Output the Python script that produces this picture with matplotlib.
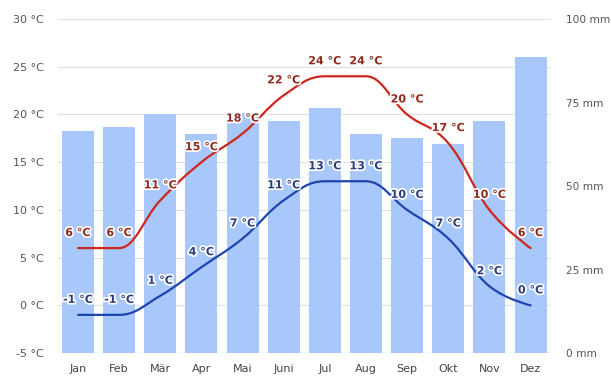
import matplotlib
matplotlib.use("Agg")
import matplotlib.pyplot as plt
from matplotlib.path import Path
from matplotlib.patches import PathPatch
import matplotlib.patheffects as pe

months = ["Jan", "Feb", "Mär", "Apr", "Mai", "Juni", "Jul", "Aug", "Sep", "Okt", "Nov", "Dez"]
temp_max = [6, 6, 11, 15, 18, 22, 24, 24, 20, 17, 10, 6]
temp_min = [-1, -1, 1, 4, 7, 11, 13, 13, 10, 7, 2, 0]
precip_mm = [66.5, 67.7, 71.6, 65.6, 71.9, 69.5, 73.4, 65.6, 64.4, 62.6, 69.5, 88.6]

temp_ticks = [-5, 0, 5, 10, 15, 20, 25, 30]
precip_ticks = [0, 25, 50, 75, 100]

BAR = "#a8c8fb"
RED = "#cf261b"
BLUE = "#1d45b0"
RED_TXT = "#8e2a1e"
BLUE_TXT = "#2c3d80"
GRID = "#e3e3e3"
TICK_TXT = "#555555"


def spline_path(xs, ys, smoothing=1.5):
    """Cubic Bezier path through the points, with control points kept
    between neighbouring values so flat stretches stay flat."""
    n = len(xs)
    right_ctrl = [None] * n
    verts = [(xs[0], ys[0])]
    codes = [Path.MOVETO]
    denom = smoothing + 1
    for i in range(1, n):
        x, y = xs[i], ys[i]
        lx, ly = xs[i - 1], ys[i - 1]
        lcx, lcy = x, y
        if i < n - 1:
            nx, ny = xs[i + 1], ys[i + 1]
            lcx = (smoothing * x + lx) / denom
            lcy = (smoothing * y + ly) / denom
            rcx = (smoothing * x + nx) / denom
            rcy = (smoothing * y + ny) / denom
            corr = (rcy - lcy) * (rcx - x) / (rcx - lcx) + y - rcy
            lcy += corr
            rcy += corr
            if lcy > ly and lcy > y:
                lcy = max(ly, y)
                rcy = 2 * y - lcy
            elif lcy < ly and lcy < y:
                lcy = min(ly, y)
                rcy = 2 * y - lcy
            if rcy > ny and rcy > y:
                rcy = max(ny, y)
                lcy = 2 * y - rcy
            elif rcy < ny and rcy < y:
                rcy = min(ny, y)
                lcy = 2 * y - rcy
            right_ctrl[i] = (rcx, rcy)
        prev_ctrl = right_ctrl[i - 1] if right_ctrl[i - 1] is not None else (lx, ly)
        verts += [prev_ctrl, (lcx, lcy), (x, y)]
        codes += [Path.CURVE4] * 3
    return Path(verts, codes)


fig = plt.figure(figsize=(6.11, 3.78), dpi=100)
fig.patch.set_facecolor("white")
ax_t = fig.add_axes([0.094, 0.066, 0.808, 0.8837])
ax_p = ax_t.twinx()

x = list(range(len(months)))

# precipitation bars (right axis)
ax_p.bar(x, precip_mm, width=0.78, color=BAR, zorder=2)
ax_p.set_ylim(0, 100)
ax_p.set_yticks(precip_ticks)
ax_p.set_yticklabels([f"{v} mm" for v in precip_ticks])

# horizontal grid behind the bars, at the temperature ticks
ax_p.hlines(temp_ticks[1:], -0.5, 11.5, transform=ax_t.transData,
            colors=GRID, linewidth=1.0, zorder=1)
ax_p.hlines([temp_ticks[0]], -0.5, 11.5, transform=ax_t.transData,
            colors="#cccccc", linewidth=1.0, zorder=1)

# temperature axis drawn on top
ax_t.set_zorder(ax_p.get_zorder() + 1)
ax_t.patch.set_visible(False)
ax_t.set_ylim(-5, 30)
ax_t.set_xlim(-0.5, 11.5)
ax_p.set_xlim(-0.5, 11.5)
ax_t.set_yticks(temp_ticks)
ax_t.set_yticklabels([f"{v} °C" for v in temp_ticks])
ax_t.set_xticks(x)
ax_t.set_xticklabels(months)

for series, color in ((temp_max, RED), (temp_min, BLUE)):
    ax_t.add_patch(PathPatch(spline_path(x, series), fill=False,
                             edgecolor=color, linewidth=1.6, zorder=3,
                             capstyle="round", joinstyle="round"))

halo = [pe.withStroke(linewidth=2.5, foreground="white")]
for series, color in ((temp_max, RED_TXT), (temp_min, BLUE_TXT)):
    for i, v in zip(x, series):
        ax_t.annotate(f"{v} °C", (i, v), xytext=(0, 10.8),
                      textcoords="offset points", ha="center", va="center",
                      fontsize=8, fontweight="bold", color=color,
                      path_effects=halo, zorder=4)

for a in (ax_t, ax_p):
    for s in a.spines.values():
        s.set_visible(False)
    a.tick_params(length=0, labelsize=8, colors=TICK_TXT)
ax_t.tick_params(axis="y", pad=10)
ax_p.tick_params(axis="y", pad=10.5, labelsize=7.6)
ax_t.tick_params(axis="x", pad=8, colors="#444444")

fig.savefig("out.png", dpi=100, facecolor="white")
